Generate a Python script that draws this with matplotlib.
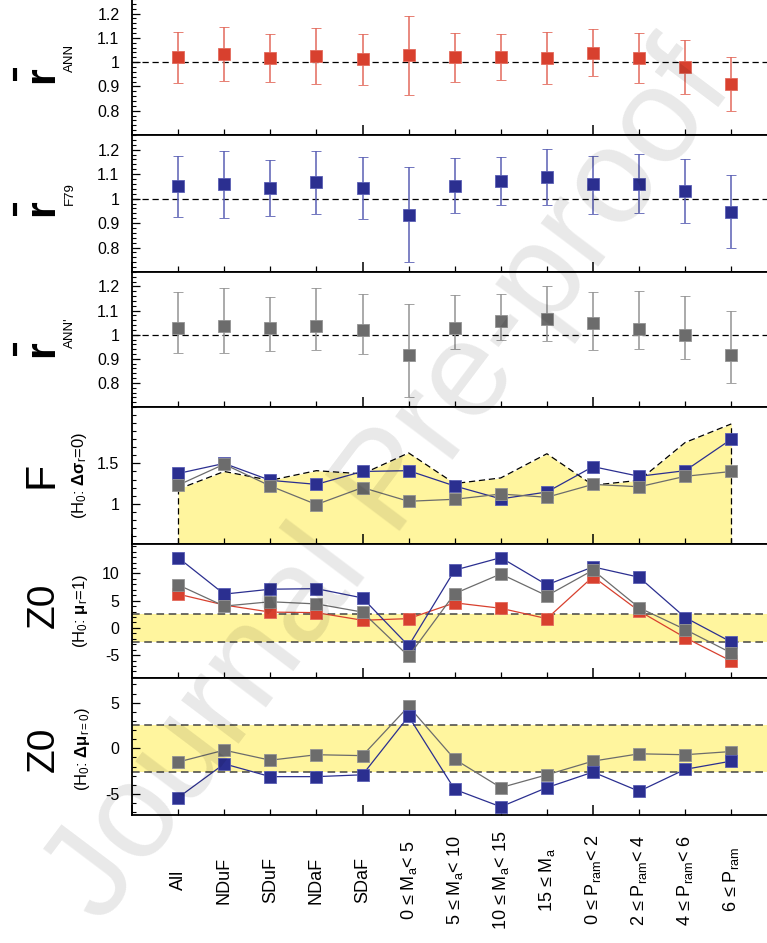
import matplotlib
matplotlib.use('Agg')
import matplotlib.pyplot as plt
import numpy as np
from matplotlib.lines import Line2D
from matplotlib.ticker import MultipleLocator, FuncFormatter

plt.rcParams['font.family'] = ['Liberation Sans', 'DejaVu Sans']
plt.rcParams['mathtext.fontset'] = 'custom'
plt.rcParams['mathtext.rm'] = 'Liberation Sans'
plt.rcParams['mathtext.it'] = 'Liberation Sans:italic'
plt.rcParams['mathtext.bf'] = 'Liberation Sans:bold'
plt.rcParams['axes.unicode_minus'] = False

# ---------------- data ----------------
categories = ['All', 'NDuF', 'SDuF', 'NDaF', 'SDaF',
              '0 ≤ M$_\\mathrm{a}$< 5', '5 ≤ M$_\\mathrm{a}$< 10',
              '10 ≤ M$_\\mathrm{a}$< 15', '15 ≤ M$_\\mathrm{a}$',
              '0 ≤ P$_\\mathrm{ram}$< 2', '2 ≤ P$_\\mathrm{ram}$< 4',
              '4 ≤ P$_\\mathrm{ram}$< 6', '6 ≤ P$_\\mathrm{ram}$']
xpos = list(range(1, 14))

r_ann = [1.020, 1.033, 1.016, 1.024, 1.011, 1.030, 1.020, 1.020, 1.018, 1.039, 1.018, 0.982, 0.910]
r_ann_lo = [0.914, 0.924, 0.918, 0.910, 0.906, 0.866, 0.920, 0.926, 0.912, 0.942, 0.914, 0.870, 0.800]
r_ann_hi = [1.124, 1.144, 1.114, 1.140, 1.116, 1.191, 1.119, 1.114, 1.123, 1.136, 1.120, 1.090, 1.020]

r_f79 = [1.050, 1.058, 1.043, 1.066, 1.043, 0.935, 1.053, 1.073, 1.087, 1.058, 1.061, 1.030, 0.947]
r_f79_lo = [0.924, 0.920, 0.930, 0.936, 0.917, 0.739, 0.942, 0.974, 0.973, 0.938, 0.940, 0.900, 0.797]
r_f79_hi = [1.176, 1.194, 1.156, 1.196, 1.170, 1.131, 1.164, 1.172, 1.202, 1.176, 1.183, 1.160, 1.098]

r_annp = [1.028, 1.036, 1.028, 1.035, 1.021, 0.915, 1.028, 1.057, 1.063, 1.050, 1.023, 0.997, 0.915]
r_annp_lo = [0.926, 0.922, 0.931, 0.937, 0.919, 0.741, 0.941, 0.976, 0.973, 0.938, 0.939, 0.900, 0.800]
r_annp_hi = [1.175, 1.194, 1.156, 1.195, 1.167, 1.129, 1.163, 1.170, 1.200, 1.175, 1.182, 1.160, 1.097]

f_crit = [1.18, 1.40, 1.29, 1.41, 1.37, 1.63, 1.25, 1.32, 1.62, 1.23, 1.29, 1.76, 1.99]
f_f79 = [1.375, 1.50, 1.29, 1.24, 1.40, 1.41, 1.22, 1.06, 1.145, 1.46, 1.34, 1.41, 1.80]
f_annp = [1.23, 1.49, 1.22, 0.99, 1.20, 1.03, 1.055, 1.12, 1.08, 1.24, 1.21, 1.34, 1.40]

z_ann = [6.2, 4.2, 2.9, 2.8, 1.4, 1.7, 4.6, 3.6, 1.7, 9.4, 3.1, -1.8, -6.1]
z_f79 = [12.9, 6.2, 7.1, 7.2, 5.5, -3.3, 10.6, 12.9, 7.9, 11.2, 9.3, 1.9, -2.6]
z_annp = [7.9, 4.0, 4.8, 4.4, 2.9, -5.2, 6.3, 9.9, 5.9, 10.6, 3.7, -0.3, -4.6]

zd_f79 = [-5.4, -1.7, -3.1, -3.1, -2.9, 3.5, -4.5, -6.4, -4.3, -2.6, -4.7, -2.3, -1.4]
zd_annp = [-1.5, -0.2, -1.3, -0.7, -0.8, 4.6, -1.2, -4.3, -2.9, -1.4, -0.6, -0.7, -0.35]

z_crit = 2.58

# ---------------- style ----------------
RED, RED_E = '#d8402e', '#e36a5c'
BLUE, BLUE_E = '#2b2f90', '#5a5fb4'
GRAY, GRAY_E = '#6c6c6c', '#939393'
YELLOW = '#fff59e'
MS = 9.0

W, H = 767, 943
fig = plt.figure(figsize=(W / 100, H / 100), dpi=100)

L = 132 / W
AW = 14.5 * 46.1 / W


def make_ax(top, bot):
    ax = fig.add_axes([L, 1 - bot / H, AW, (bot - top) / H])
    ax.set_xlim(0, 14.5)
    for s in ['left', 'bottom', 'top']:
        ax.spines[s].set_linewidth(1.3)
    ax.spines['right'].set_visible(False)
    ax.set_xticks([0, 5, 10])
    ax.set_xticks(xpos, minor=True)
    ax.tick_params(axis='x', which='both', direction='in', labelbottom=False,
                   top=False, bottom=True)
    ax.tick_params(axis='x', which='major', length=7, width=1.1)
    ax.tick_params(axis='x', which='minor', length=4, width=0.9)
    ax.tick_params(axis='y', which='both', direction='in', right=False,
                   labelsize=11.5, pad=9)
    ax.tick_params(axis='y', which='major', length=6, width=0.9)
    ax.tick_params(axis='y', which='minor', length=3, width=0.8)
    ax.yaxis.set_major_formatter(FuncFormatter(lambda v, p: '%g' % round(v, 3)))
    return ax


def r_panel(ax, y, lo, hi, c, ce):
    y = np.array(y); lo = np.array(lo); hi = np.array(hi)
    ax.axhline(1, color='k', lw=0.9, ls=(0, (5, 3)), zorder=1)
    ax.errorbar(xpos, y, yerr=[y - lo, hi - y], fmt='s', ms=MS, color=c,
                mec=ce, mew=0.6, ecolor=ce, elinewidth=1.1, capsize=3.5,
                capthick=1.1, zorder=3)
    ax.set_ylim(0.70, 1.26)
    ax.yaxis.set_major_locator(MultipleLocator(0.1))
    ax.yaxis.set_minor_locator(MultipleLocator(0.02))
    ax.set_yticks([0.8, 0.9, 1.0, 1.1, 1.2])


ax1 = make_ax(-1, 135)
r_panel(ax1, r_ann, r_ann_lo, r_ann_hi, RED, RED_E)
ax2 = make_ax(135, 272)
r_panel(ax2, r_f79, r_f79_lo, r_f79_hi, BLUE, BLUE_E)
ax3 = make_ax(272, 407)
r_panel(ax3, r_annp, r_annp_lo, r_annp_hi, GRAY, GRAY_E)

# F panel
ax4 = make_ax(407, 544)
ax4.set_ylim(0.5, 2.2)
ax4.fill_between(xpos, 0.5, f_crit, color=YELLOW, lw=0, zorder=0)
ax4.plot(xpos, f_crit, color='k', lw=0.9, ls=(0, (5, 3)), zorder=1)
ax4.plot([xpos[0], xpos[0]], [0.5, f_crit[0]], color='k', lw=0.9, ls=(0, (5, 3)), zorder=1)
ax4.plot([xpos[-1], xpos[-1]], [0.5, f_crit[-1]], color='k', lw=0.9, ls=(0, (5, 3)), zorder=1)
ax4.plot(xpos, f_f79, '-s', color=BLUE, ms=MS, mec=BLUE_E, mew=0.6, lw=0.9, zorder=3)
ax4.plot(xpos, f_annp, '-s', color=GRAY, ms=MS, mec=GRAY_E, mew=0.6, lw=0.9, zorder=4)
ax4.set_yticks([1.0, 1.5])
ax4.yaxis.set_minor_locator(MultipleLocator(0.1))

# Z (mu=1) panel
ax5 = make_ax(544, 678)
ax5.set_ylim(-9.2, 15.4)
ax5.axhspan(-z_crit, z_crit, color=YELLOW, lw=0, zorder=0)
for v in (-z_crit, z_crit):
    ax5.axhline(v, color='#444444', lw=1.1, ls=(0, (5, 3)), zorder=1)
ax5.plot(xpos, z_ann, '-s', color=RED, ms=MS, mec=RED_E, mew=0.6, lw=0.9, zorder=3)
ax5.plot(xpos, z_f79, '-s', color=BLUE, ms=MS, mec=BLUE_E, mew=0.6, lw=0.9, zorder=4)
ax5.plot(xpos, z_annp, '-s', color=GRAY, ms=MS, mec=GRAY_E, mew=0.6, lw=0.9, zorder=5)
ax5.set_yticks([-5, 0, 5, 10])
ax5.yaxis.set_minor_locator(MultipleLocator(1))

# Z (delta mu) panel
ax6 = make_ax(678, 815)
ax6.set_ylim(-7.3, 7.7)
ax6.axhspan(-z_crit, z_crit, color=YELLOW, lw=0, zorder=0)
for v in (-z_crit, z_crit):
    ax6.axhline(v, color='#444444', lw=1.1, ls=(0, (5, 3)), zorder=1)
ax6.plot(xpos, zd_annp, '-s', color=GRAY, ms=MS, mec=GRAY_E, mew=0.6, lw=0.9, zorder=3)
ax6.plot(xpos, zd_f79, '-s', color=BLUE, ms=MS, mec=BLUE_E, mew=0.6, lw=0.9, zorder=4)
ax6.set_yticks([-5, 0, 5])
ax6.yaxis.set_minor_locator(MultipleLocator(1))

# category labels
ylab = -(880 - 815) / (815 - 678)
for xi, lab in zip(xpos, categories):
    ax6.text(xi, ylab, lab, rotation=90, ha='center', va='center',
             fontsize=13, transform=ax6.get_xaxis_transform(), clip_on=False)


# y labels (pixel positions)
def ftext(px, py, s, **kw):
    fig.text(px / W, 1 - py / H, s, rotation=90, rotation_mode='anchor',
             ha='center', va='baseline', **kw)


def fbar(px, py0, py1):
    fig.add_artist(Line2D([px / W, px / W], [1 - py0 / H, 1 - py1 / H],
                          transform=fig.transFigure, color='k', lw=3.0,
                          solid_capstyle='butt'))


for (rc, subc, sub, b0, b1) in [(75, 58, 'ANN', 68, 81),
                                (208, 194, 'F79', 203, 216),
                                (349, 333, "ANN'", 343, 356)]:
    ftext(53, rc, 'r', fontsize=31, fontweight='bold')
    ftext(73, subc, sub, fontsize=9.5)
    fbar(15, b0, b1)

ftext(53, 475, 'F', fontsize=31)
ftext(84, 475, r'(H$_0$: $\mathbf{\Delta\sigma}_\mathrm{r}$=0)', fontsize=12)

ftext(54, 605, 'Z0', fontsize=28)
ftext(85, 611, r'(H$_0$: $\mathbf{\mu}_\mathrm{r}$=1)', fontsize=12)

ftext(54, 749, 'Z0', fontsize=28)
ftext(87, 749, r'(H$_0$: $\mathbf{\Delta\mu}_\mathrm{r=0}$)', fontsize=12)

# watermark
fig.text(390 / W, 1 - 485 / H, 'Journal Pre-proof', rotation=53,
         ha='center', va='center', fontsize=98, color='k', alpha=0.09,
         zorder=100)

fig.savefig('out.png', dpi=100)
